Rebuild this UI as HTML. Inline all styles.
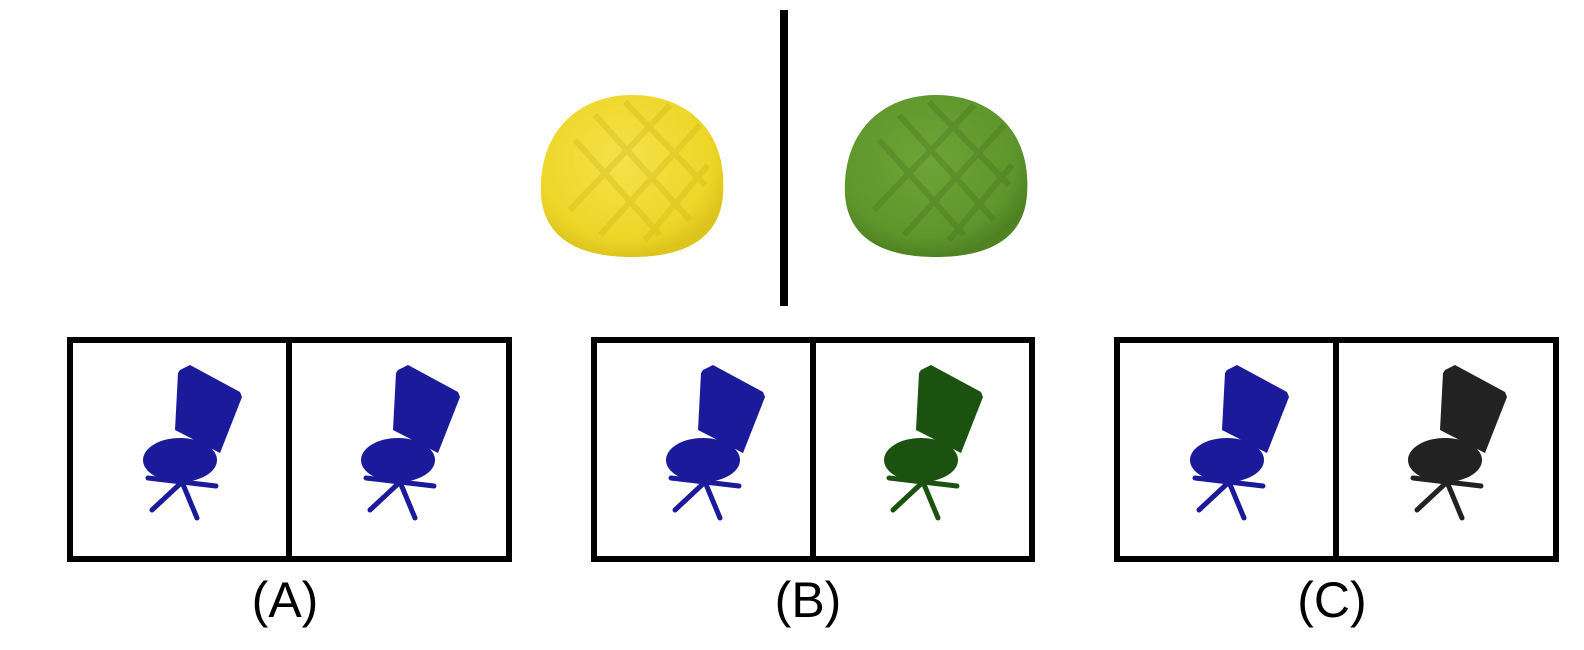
<!DOCTYPE html>
<html><head><meta charset="utf-8"><style>
html,body{margin:0;padding:0;background:#fff;}
svg{display:block;}
text{font-family:"Liberation Sans",sans-serif;}
</style></head><body>
<svg width="1584" height="650" viewBox="0 0 1584 650">
<defs>
<radialGradient id="gy" cx="45%" cy="40%" r="60%"><stop offset="0" stop-color="#f4e24a"/><stop offset="0.8" stop-color="#eed628"/><stop offset="1" stop-color="#dcc41c"/></radialGradient>
<radialGradient id="gg" cx="45%" cy="40%" r="60%"><stop offset="0" stop-color="#6ea538"/><stop offset="0.8" stop-color="#5e962c"/><stop offset="1" stop-color="#4e8222"/></radialGradient>
<g id="chair">
<polygon points="180,370 190,365 240,392 242,397 220,453 175,430 178,373"/>
<ellipse cx="180" cy="460" rx="37" ry="22"/>
<rect x="200" y="440" width="8" height="30"/>
<g stroke-width="5" stroke-linecap="round" stroke="currentColor">
<line x1="182" y1="482" x2="152" y2="510"/>
<line x1="182" y1="482" x2="197" y2="518"/>
<line x1="182" y1="482" x2="216" y2="486"/>
<line x1="182" y1="482" x2="148" y2="478"/>
</g>
</g>
</defs>
<rect x="780" y="10" width="8" height="296" fill="#000"/>
<g>
<path d="M541,195 C538,130 580,95 632,95 C686,95 728,130 723,195 C720,235 690,257 632,257 C574,257 544,235 541,195Z" fill="url(#gy)"/>
<g stroke="#c8ae10" stroke-width="6" fill="none" opacity="0.3"><path d="M575,140 L660,235 M595,115 L690,220 M625,102 L705,185 M700,125 L600,235 M670,105 L570,210 M708,165 L645,240"/></g>
</g>
<g>
<path d="M845,195 C842,130 884,95 936,95 C990,95 1032,130 1027,195 C1024,235 994,257 936,257 C878,257 848,235 845,195Z" fill="url(#gg)"/>
<g stroke="#3e6e1a" stroke-width="6" fill="none" opacity="0.3"><path d="M879,140 L964,235 M899,115 L994,220 M929,102 L1009,185 M1004,125 L904,235 M974,105 L874,210 M1012,165 L949,240"/></g>
</g>
<g fill="none" stroke="#000" stroke-width="6">
<rect x="70" y="340" width="439" height="219"/>
<line x1="289" y1="340" x2="289" y2="559"/>
<rect x="594" y="340" width="438" height="219"/>
<line x1="813" y1="340" x2="813" y2="559"/>
<rect x="1117" y="340" width="439" height="219"/>
<line x1="1336" y1="340" x2="1336" y2="559"/>
</g>
<use href="#chair" fill="#1a1a9a" color="#1a1a9a"/>
<use href="#chair" transform="translate(218,0)" fill="#1a1a9a" color="#1a1a9a"/>
<use href="#chair" transform="translate(523,0)" fill="#1a1a9a" color="#1a1a9a"/>
<use href="#chair" transform="translate(741,0)" fill="#1c5210" color="#1c5210"/>
<use href="#chair" transform="translate(1047,0)" fill="#1a1a9a" color="#1a1a9a"/>
<use href="#chair" transform="translate(1265,0)" fill="#222" color="#222"/>
<text x="285" y="617" font-size="50" text-anchor="middle">(A)</text>
<text x="808" y="617" font-size="50" text-anchor="middle">(B)</text>
<text x="1332" y="617" font-size="50" text-anchor="middle">(C)</text>
</svg>
</body></html>
